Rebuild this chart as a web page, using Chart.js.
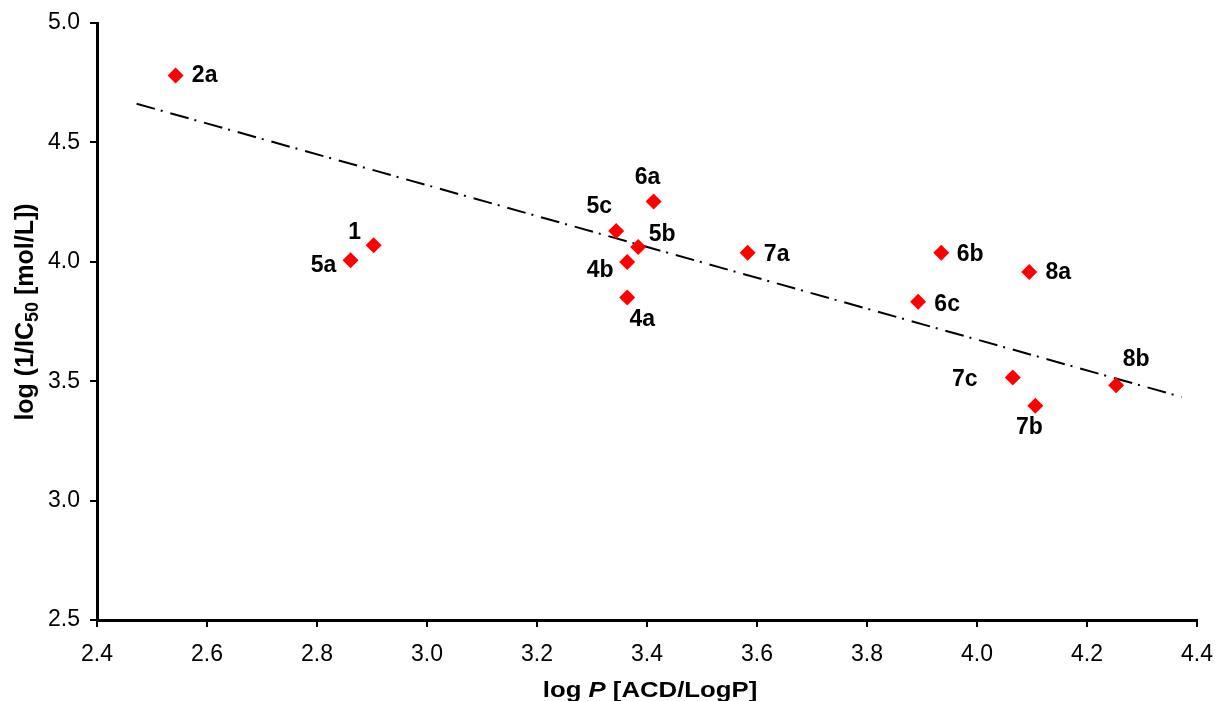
<!DOCTYPE html>
<html>
<head>
<meta charset="utf-8">
<script src="https://cdn.jsdelivr.net/npm/chart.js@4/dist/chart.umd.min.js"></script>
<style>
html,body{margin:0;padding:0;background:#fff;}
#wrap{width:1218px;height:701px;position:relative;}
</style>
</head>
<body>
<div id="wrap"><canvas id="c" width="1218" height="701"></canvas></div>
<script>
// ---- data ----
const compoundLabels = ["2a","1","5a","5c","6a","5b","4b","4a","7a","6b","8a","6c","7c","7b","8b"];
const logP =      [2.543, 2.903, 2.861, 3.344, 3.412, 3.384, 3.364, 3.364, 3.583, 3.935, 4.095, 3.893, 4.065, 4.106, 4.253];
const logInvIC50 = [4.780, 4.069, 4.006, 4.129, 4.252, 4.062, 3.999, 3.850, 4.038, 4.038, 3.957, 3.833, 3.515, 3.397, 3.483];
const trendX = [2.472, 4.372];
const trendY = [4.662, 3.434];
const xTicks = [2.4, 2.6, 2.8, 3.0, 3.2, 3.4, 3.6, 3.8, 4.0, 4.2, 4.4];
const yTicks = [2.5, 3.0, 3.5, 4.0, 4.5, 5.0];
const xTitleParts = ["log ", "P", " [ACD/LogP]"];
const yTitleParts = ["log (1/IC", "50", " [mol/L])"];

// ---- label placement (style) ----
const labelOffsets = [
  [29,0],[-19,-13],[-27,5],[-17,-24],[-6,-24],[24,-12],[-27,9],[15,22],
  [29,2],[29,2],[29,1],[29,3],[-48,2],[-6,22],[20,-26]
];

const FONT = "'Liberation Sans', Arial, Helvetica, sans-serif";

const pointLabels = {
  id: 'pointLabels',
  afterDatasetsDraw(chart) {
    const meta = chart.getDatasetMeta(0);
    const ctx = chart.ctx;
    ctx.save();
    ctx.font = "bold 23px " + FONT;
    ctx.fillStyle = '#000';
    ctx.textAlign = 'center';
    ctx.textBaseline = 'middle';
    meta.data.forEach((el, i) => {
      const o = labelOffsets[i];
      ctx.fillText(compoundLabels[i], el.x + o[0], el.y + o[1]);
    });
    ctx.restore();
  }
};

const axisTitles = {
  id: 'axisTitles',
  afterDraw(chart) {
    const ctx = chart.ctx;
    const ca = chart.chartArea;
    ctx.save();
    ctx.fillStyle = '#000';
    ctx.textAlign = 'left';
    ctx.textBaseline = 'alphabetic';

    // x title (log P italic)
    const xf = ["bold 22px " + FONT, "italic bold 22px " + FONT, "bold 22px " + FONT];
    const xw = xTitleParts.map((t, i) => { ctx.font = xf[i]; return ctx.measureText(t).width; });
    const xTotal = xw.reduce((a, b) => a + b, 0);
    const sx = 1.17;
    ctx.save();
    ctx.translate((ca.left + ca.right) / 2 + 3, 697);
    ctx.scale(sx, 1);
    let x = -xTotal / 2;
    xTitleParts.forEach((t, i) => { ctx.font = xf[i]; ctx.fillText(t, x, 0); x += xw[i]; });
    ctx.restore();

    // y title with subscript 50
    const yf = ["bold 25px " + FONT, "bold 18px " + FONT, "bold 25px " + FONT];
    const yOff = [0, 5, 0];
    const yw = yTitleParts.map((t, i) => { ctx.font = yf[i]; return ctx.measureText(t).width; });
    const yTotal = yw.reduce((a, b) => a + b, 0);
    ctx.save();
    ctx.translate(33, 312);
    ctx.rotate(-Math.PI / 2);
    let p = -yTotal / 2;
    yTitleParts.forEach((t, i) => { ctx.font = yf[i]; ctx.fillText(t, p, yOff[i]); p += yw[i]; });
    ctx.restore();

    ctx.restore();
  }
};

const scatterData = logP.map((x, i) => ({x: x, y: logInvIC50[i]}));
const trendData = trendX.map((x, i) => ({x: x, y: trendY[i]}));

new Chart(document.getElementById('c'), {
  type: 'scatter',
  data: {
    datasets: [
      {
        label: 'compounds',
        data: scatterData,
        pointStyle: 'rectRot',
        pointRadius: 8,
        pointHoverRadius: 8,
        pointBorderWidth: 0,
        backgroundColor: '#ff0000',
        borderColor: '#ff0000',
        order: 1
      },
      {
        label: 'trend',
        data: trendData,
        showLine: true,
        pointRadius: 0,
        borderColor: '#000',
        borderWidth: 2,
        borderDash: [19, 6, 2, 8],
        fill: false,
        order: 2
      }
    ]
  },
  options: {
    responsive: false,
    animation: false,
    layout: { padding: { top: 23, right: 21, left: 0, bottom: 0 } },
    plugins: {
      legend: { display: false },
      tooltip: { enabled: false }
    },
    scales: {
      x: {
        type: 'linear',
        min: 2.4, max: 4.4,
        afterBuildTicks: (s) => { s.ticks = xTicks.map(v => ({value: v})); },
        afterFit: (s) => { s.height = 81; s.paddingLeft = 0; s.paddingRight = 0; },
        ticks: {
          color: '#000',
          font: { family: FONT, size: 23 },
          padding: 14,
          maxRotation: 0,
          callback: (v) => Number(v).toFixed(1)
        },
        grid: { drawOnChartArea: false, drawTicks: true, tickLength: 7, color: '#000', lineWidth: 2 },
        border: { color: '#000', width: 3 },
        title: { display: false }
      },
      y: {
        type: 'linear',
        min: 2.5, max: 5.0,
        afterBuildTicks: (s) => { s.ticks = yTicks.map(v => ({value: v})); },
        afterFit: (s) => { s.width = 97; s.paddingTop = 0; s.paddingBottom = 0; },
        ticks: {
          color: '#000',
          font: { family: FONT, size: 23 },
          padding: 10,
          callback: (v) => Number(v).toFixed(1)
        },
        grid: { drawOnChartArea: false, drawTicks: true, tickLength: 7, color: '#000', lineWidth: 2 },
        border: { color: '#000', width: 3 },
        title: { display: false }
      }
    }
  },
  plugins: [pointLabels, axisTitles]
});
</script>
</body>
</html>
